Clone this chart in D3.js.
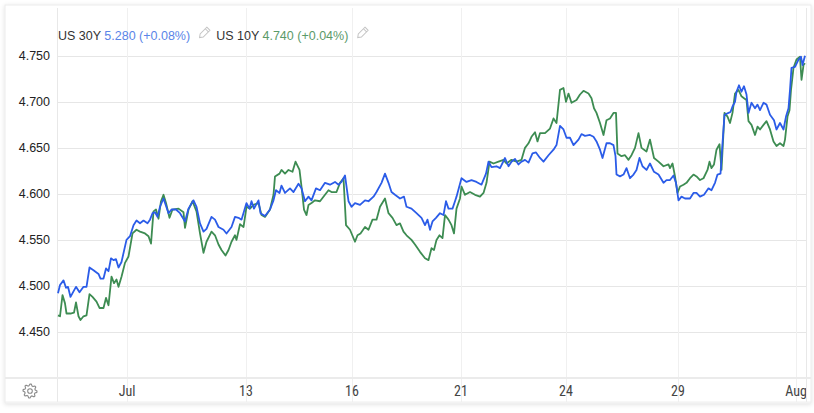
<!DOCTYPE html>
<html>
<head>
<meta charset="utf-8">
<script src="https://cdn.jsdelivr.net/npm/d3@7"></script>
<style>
  body { margin: 0; background: #fff; }
  svg { display: block; font-family: "Liberation Sans", Arial, sans-serif; }
</style>
</head>
<body>
<div id="chart"></div>
<script>
// US 30Y vs US 10Y, intraday comparison

var w = 814, h = 413;

// session index (x) and yield (y) for each series
var t30 = [0.2,0.6,1.3,1.8,2.2,2.7,3.3,3.8,4.5,5.3,5.9,6.5,7.3,8.3,8.7,9.3,9.8,10.3,10.8,11.3,
  11.8,12.3,12.9,13.9,14.6,15.3,15.9,16.6,17.3,18.1,18.6,19.1,19.6,20.1,20.6,21.3,22.3,22.9,23.8,24.6,
  25.6,26.3,27.3,27.9,28.6,29.3,29.9,30.9,31.6,32.3,33.3,33.9,34.9,35.6,36.3,36.9,37.9,38.5,38.9,39.4,
  40.3,40.7,41.6,42.6,43.3,43.8,44.5,44.9,45.6,46.6,47.3,48.3,48.9,49.6,50.3,50.9,51.8,52.6,53.6,54.6,
  55.6,56.3,56.9,57.6,58.3,58.9,59.6,60.6,61.6,62.3,63.3,63.9,64.9,65.6,66.3,66.9,67.6,68.6,69.4,69.9,
  70.9,71.9,72.9,73.6,74.1,74.6,75.1,75.8,76.6,77.3,77.8,78.3,79.1,79.6,79.9,80.9,81.9,82.9,83.9,84.9,
  85.8,86.3,86.9,87.9,88.6,89.6,90.3,90.9,91.6,92.3,92.9,93.6,94.3,95.1,95.8,96.6,97.3,98.3,99.3,99.9,
  100.6,101.3,101.9,102.6,103.3,104.3,104.9,105.6,106.6,107.3,107.9,108.6,109.1,109.9,110.6,111.3,111.7,111.9,112.6,113.3,
  113.9,114.6,115.3,115.9,116.5,117.1,117.9,118.6,119.4,120.3,121.3,121.9,122.6,123.3,123.8,124.3,124.9,125.6,126.6,127.3,
  127.9,128.6,129.4,130.3,130.9,131.6,132.1,132.7,133.1,133.5,134.3,134.7,135.1,135.6,135.9,136.4,136.9,137.4,137.9,138.3,
  138.9,139.6,140.1,140.6,141.3,141.9,142.6,143.4,143.9,144.6,145.3,145.8,146.3,146.6,146.9,147.6,148.3,148.8,149.1,149.6];

var us30 = [4.492,4.501,4.506,4.498,4.499,4.488,4.494,4.499,4.493,4.499,4.499,4.520,4.517,4.513,4.508,4.508,4.519,4.516,4.530,4.528,
  4.529,4.520,4.526,4.550,4.554,4.566,4.571,4.568,4.571,4.568,4.572,4.579,4.580,4.575,4.586,4.595,4.579,4.583,4.583,4.579,
  4.570,4.584,4.593,4.586,4.568,4.559,4.562,4.575,4.572,4.564,4.561,4.557,4.564,4.575,4.574,4.572,4.590,4.584,4.592,4.584,
  4.593,4.579,4.576,4.583,4.593,4.604,4.601,4.609,4.601,4.606,4.602,4.611,4.606,4.592,4.597,4.593,4.606,4.604,4.612,4.610,
  4.613,4.610,4.613,4.620,4.592,4.586,4.590,4.588,4.593,4.592,4.597,4.602,4.612,4.622,4.612,4.602,4.599,4.595,4.597,4.586,
  4.584,4.579,4.574,4.566,4.572,4.561,4.570,4.574,4.579,4.577,4.592,4.584,4.584,4.592,4.597,4.617,4.613,4.615,4.613,4.610,
  4.622,4.635,4.629,4.630,4.628,4.639,4.630,4.635,4.638,4.632,4.635,4.637,4.634,4.644,4.645,4.639,4.635,4.642,4.648,4.653,
  4.674,4.670,4.661,4.661,4.653,4.659,4.665,4.663,4.664,4.662,4.657,4.648,4.639,4.655,4.655,4.653,4.641,4.621,4.619,4.621,
  4.628,4.617,4.621,4.626,4.639,4.630,4.626,4.633,4.624,4.621,4.612,4.615,4.615,4.620,4.612,4.593,4.597,4.595,4.595,4.601,
  4.601,4.597,4.599,4.606,4.604,4.612,4.621,4.622,4.655,4.686,4.688,4.689,4.695,4.700,4.711,4.718,4.711,4.717,4.708,4.688,
  4.699,4.693,4.697,4.691,4.699,4.697,4.686,4.680,4.670,4.677,4.670,4.684,4.693,4.713,4.737,4.738,4.746,4.749,4.740,4.750];

var t10 = [0.2,0.6,1.1,1.6,1.9,2.7,3.4,3.8,4.3,4.7,5.3,5.9,6.5,7.1,7.9,8.5,9.3,9.8,10.3,10.9,
  11.4,11.9,12.3,12.9,13.6,14.3,15.1,15.9,16.6,17.6,18.3,18.8,19.3,19.8,20.3,20.8,21.3,21.8,22.5,23.1,
  24.3,25.3,25.6,26.3,27.1,27.9,28.6,29.3,29.9,30.9,31.6,32.3,32.9,33.7,34.3,34.9,35.6,35.9,36.6,37.3,
  37.9,38.6,39.3,40.3,40.9,41.6,42.6,43.3,43.6,44.5,44.9,45.6,46.3,47.1,47.7,48.5,48.9,49.4,49.9,50.3,
  50.9,51.6,52.6,53.6,54.3,54.9,55.9,56.6,57.3,57.8,58.6,59.6,60.1,60.7,61.6,62.3,63.1,63.9,64.6,65.6,
  66.3,67.1,67.9,68.6,69.3,69.9,70.9,71.6,72.6,73.6,74.3,74.9,75.4,75.9,76.5,77.1,77.6,78.3,78.9,79.4,
  79.9,80.6,80.9,81.6,82.6,83.6,84.6,85.3,85.9,86.5,87.3,88.3,89.3,89.9,90.9,91.9,92.9,93.6,94.3,94.9,
  95.6,96.1,96.6,97.6,98.6,99.3,99.9,100.6,101.3,101.8,102.3,102.9,103.9,104.6,105.3,106.3,106.9,107.4,107.9,108.6,
  109.3,109.9,110.6,111.3,111.8,112.1,112.9,113.6,114.3,114.9,115.6,116.3,116.9,117.9,118.6,119.4,120.3,121.3,122.3,122.6,
  123.1,123.6,124.1,124.6,125.3,125.9,126.6,127.3,127.9,128.6,129.3,130.1,130.5,130.9,131.4,131.9,132.5,132.9,133.5,134.1,
  134.6,135.1,135.6,136.3,136.9,137.4,137.9,138.3,138.9,139.6,140.1,140.6,141.3,141.9,142.6,143.3,143.9,144.6,145.3,145.6,
  146.1,146.5,146.8,147.3,147.9,148.6,148.9,149.3,149.6];

var us10 = [4.468,4.467,4.490,4.481,4.470,4.470,4.471,4.482,4.467,4.463,4.467,4.468,4.491,4.488,4.483,4.476,4.476,4.487,4.479,4.510,
  4.503,4.507,4.499,4.510,4.525,4.532,4.557,4.561,4.559,4.557,4.554,4.546,4.581,4.583,4.573,4.592,4.599,4.590,4.574,4.583,
  4.584,4.580,4.563,4.583,4.592,4.581,4.557,4.536,4.548,4.559,4.555,4.545,4.539,4.533,4.539,4.548,4.555,4.550,4.567,4.564,
  4.586,4.584,4.588,4.590,4.577,4.575,4.583,4.599,4.619,4.622,4.626,4.622,4.626,4.624,4.635,4.626,4.608,4.583,4.577,4.588,
  4.590,4.593,4.592,4.599,4.604,4.602,4.602,4.612,4.617,4.566,4.561,4.548,4.555,4.557,4.564,4.561,4.572,4.572,4.586,4.595,
  4.579,4.574,4.566,4.568,4.559,4.555,4.550,4.545,4.537,4.530,4.528,4.541,4.539,4.550,4.555,4.552,4.577,4.572,4.566,4.557,
  4.584,4.595,4.608,4.599,4.602,4.599,4.597,4.601,4.612,4.635,4.633,4.635,4.637,4.633,4.637,4.635,4.637,4.650,4.655,4.662,
  4.667,4.657,4.666,4.666,4.671,4.682,4.677,4.713,4.715,4.700,4.709,4.699,4.702,4.708,4.712,4.709,4.704,4.693,4.688,4.677,
  4.664,4.680,4.682,4.688,4.688,4.644,4.641,4.642,4.637,4.642,4.650,4.666,4.650,4.646,4.659,4.639,4.635,4.630,4.632,4.628,
  4.633,4.619,4.601,4.608,4.610,4.612,4.617,4.621,4.619,4.615,4.617,4.626,4.635,4.628,4.632,4.648,4.654,4.626,4.688,4.684,
  4.677,4.688,4.709,4.713,4.706,4.704,4.702,4.679,4.675,4.664,4.673,4.670,4.675,4.679,4.670,4.657,4.652,4.655,4.652,4.659,
  4.684,4.691,4.713,4.737,4.746,4.749,4.724,4.740,4.742];

var yTicks = [4.45, 4.50, 4.55, 4.60, 4.65, 4.70, 4.75];
var xTickPos = [14.0, 37.8, 59.0, 80.8, 101.8, 124.2, 147.8];
var xTickLabels = ["Jul", "13", "16", "21", "24", "29", "Aug"];

var legendItems = [
  { name: "US 30Y", value: "5.280 (+0.08%)", color: "#5a85e8" },
  { name: "US 10Y", value: "4.740 (+0.04%)", color: "#5b9a69" }
];

var plotL = 57, plotR = 806, plotT = 8, plotB = 377, axisB = 402;

var x = d3.scaleLinear().domain([0, 149.8]).range([plotL, plotR]);
var y = d3.scaleLinear().domain([4.401, 4.802]).range([plotB, plotT]);

var svg = d3.select("#chart").append("svg")
  .attr("width", w)
  .attr("height", h);

var defs = svg.append("defs");
var shadow = defs.append("filter").attr("id", "shadow")
  .attr("x", "-5%").attr("y", "-5%").attr("width", "110%").attr("height", "115%");
shadow.append("feDropShadow")
  .attr("dx", 0).attr("dy", 1).attr("stdDeviation", 2)
  .attr("flood-color", "#000").attr("flood-opacity", 0.12);

defs.append("clipPath").attr("id", "plot-clip")
  .append("rect")
  .attr("x", plotL).attr("y", plotT)
  .attr("width", plotR - plotL).attr("height", axisB - plotT);

// card
svg.append("rect")
  .attr("x", 5).attr("y", 5)
  .attr("width", 806).attr("height", 398)
  .attr("fill", "#fff")
  .attr("stroke", "#ececec")
  .attr("filter", "url(#shadow)");

// grid
svg.append("g").selectAll("line")
  .data(yTicks)
.enter().append("line")
  .attr("x1", plotL).attr("x2", plotR)
  .attr("y1", function(d) { return Math.round(y(d)) + 0.5; })
  .attr("y2", function(d) { return Math.round(y(d)) + 0.5; })
  .attr("stroke", "#e6e6e6");

svg.append("g").selectAll("line")
  .data(xTickPos)
.enter().append("line")
  .attr("x1", function(d) { return Math.round(x(d)) + 0.5; })
  .attr("x2", function(d) { return Math.round(x(d)) + 0.5; })
  .attr("y1", plotT).attr("y2", axisB)
  .attr("stroke", "#f0f0f0");

// frame
svg.append("line")
  .attr("x1", plotL + 0.5).attr("x2", plotL + 0.5)
  .attr("y1", plotT).attr("y2", axisB)
  .attr("stroke", "#e8e8e8");
svg.append("line")
  .attr("x1", plotR + 0.5).attr("x2", plotR + 0.5)
  .attr("y1", plotT).attr("y2", axisB)
  .attr("stroke", "#e8e8e8");
svg.append("line")
  .attr("x1", 5).attr("x2", 811)
  .attr("y1", plotB + 1).attr("y2", plotB + 1)
  .attr("stroke", "#ebebeb")
  .attr("stroke-width", 2);
svg.append("line")
  .attr("x1", 5).attr("x2", 811)
  .attr("y1", axisB).attr("y2", axisB)
  .attr("stroke", "#efefef");

// y labels
svg.append("g").selectAll("text")
  .data(yTicks)
.enter().append("text")
  .attr("x", 50)
  .attr("y", function(d) { return y(d); })
  .attr("dy", ".35em")
  .attr("text-anchor", "end")
  .attr("font-size", "12.5px")
  .attr("fill", "#222")
  .text(d3.format(".3f"));

// x labels
svg.append("g")
  .attr("clip-path", "url(#plot-clip)")
  .selectAll("text")
  .data(xTickPos)
.enter().append("text")
  .attr("x", function(d) { return x(d); })
  .attr("y", 396)
  .attr("text-anchor", "middle")
  .attr("font-size", "14px")
  .attr("font-family", "'Liberation Sans Narrow', 'Roboto Condensed', 'DejaVu Sans Condensed', sans-serif")
  .attr("fill", "#444")
  .text(function(d, i) { return xTickLabels[i]; });

// lines
var line = d3.line()
  .x(function(d) { return x(d[0]); })
  .y(function(d) { return y(d[1]); });

var plot = svg.append("g").attr("clip-path", "url(#plot-clip)");

plot.append("path")
  .datum(d3.zip(t10, us10))
  .attr("fill", "none")
  .attr("stroke", "#3d8c52")
  .attr("stroke-width", 1.8)
  .attr("stroke-linejoin", "round")
  .attr("d", line);

plot.append("path")
  .datum(d3.zip(t30, us30))
  .attr("fill", "none")
  .attr("stroke", "#2b5ce8")
  .attr("stroke-width", 1.8)
  .attr("stroke-linejoin", "round")
  .attr("d", line);

// legend
var lx = 58;
legendItems.forEach(function(item) {
  var t = svg.append("text")
    .attr("x", lx)
    .attr("y", 39.5)
    .attr("font-size", "12.5px");
  t.append("tspan").attr("fill", "#333").text(item.name + " ");
  t.append("tspan").attr("fill", item.color).text(item.value);
  var tw = t.node().getComputedTextLength();
  var px = lx + tw + 14;
  // little pencil
  svg.append("g")
    .attr("transform", "translate(" + px + ",33) rotate(45)")
    .call(function(g) {
      g.append("path")
        .attr("d", "M-2.2,-6 L2.2,-6 L2.2,3.5 L0,6.5 L-2.2,3.5 Z M-2.2,-3.8 L2.2,-3.8")
        .attr("fill", "none")
        .attr("stroke", "#c4c4c4")
        .attr("stroke-width", 1);
    });
  lx = px + 12;
});

// settings gear
var gear = svg.append("g").attr("transform", "translate(30,391)");
var teeth = 8, pts = [];
for (var i = 0; i < teeth * 4; i++) {
  var a = i / (teeth * 4) * 2 * Math.PI;
  var r = (i % 4 < 2) ? 7 : 5.3;
  pts.push([a, r]);
}
gear.append("path")
  .attr("d", d3.lineRadial().curve(d3.curveLinearClosed)(pts))
  .attr("fill", "none")
  .attr("stroke", "#8a8a8a")
  .attr("stroke-width", 1.1)
  .attr("stroke-linejoin", "round");
gear.append("circle")
  .attr("r", 2.3)
  .attr("fill", "none")
  .attr("stroke", "#8a8a8a")
  .attr("stroke-width", 1.1);
</script>
</body>
</html>
